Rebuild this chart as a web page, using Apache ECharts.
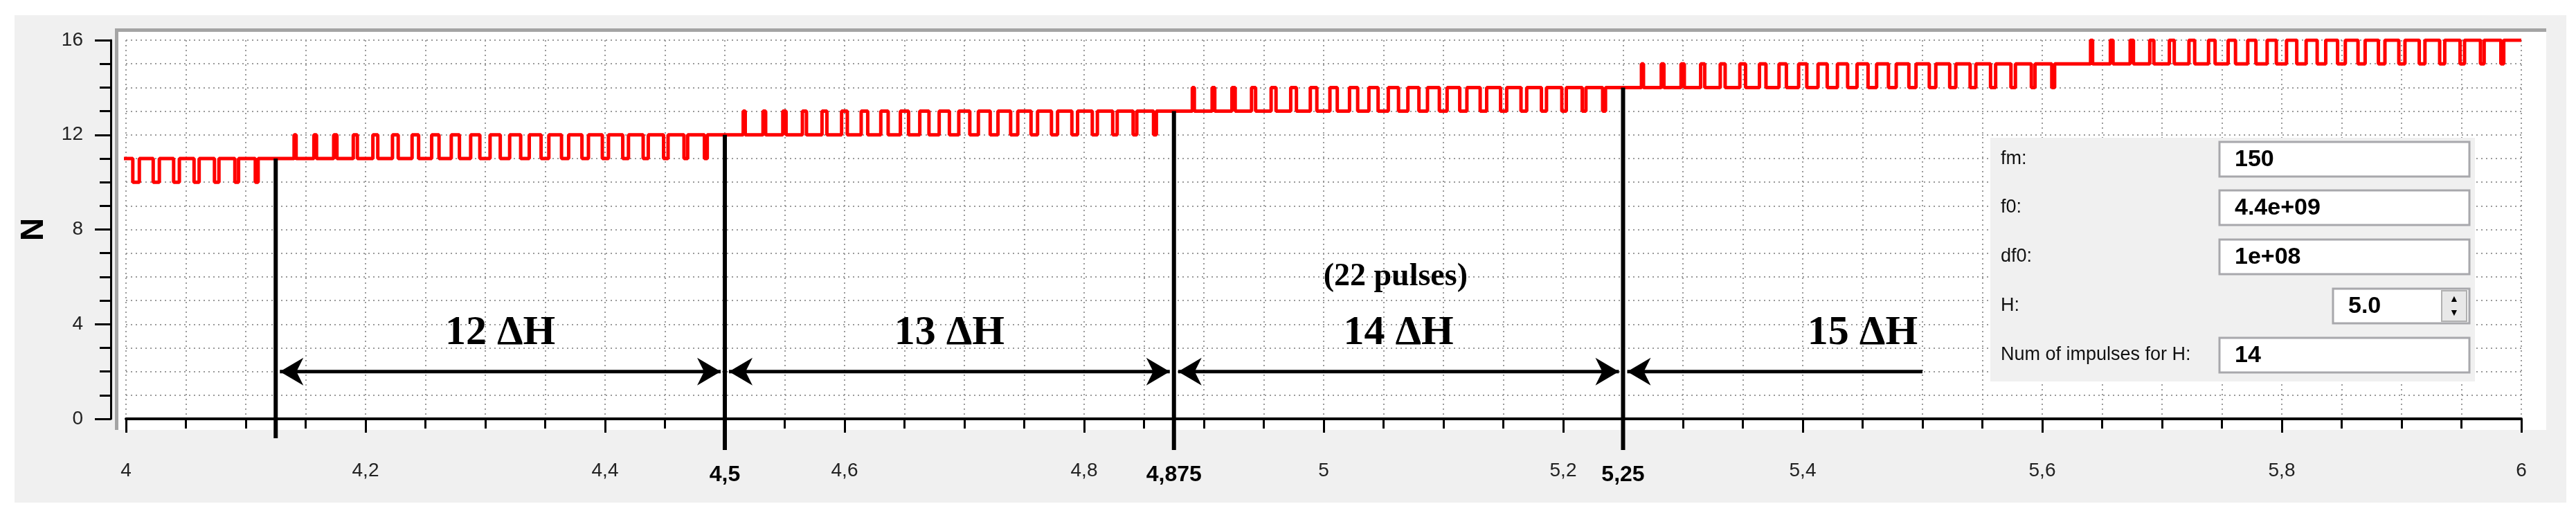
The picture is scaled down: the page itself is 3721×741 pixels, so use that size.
<!DOCTYPE html>
<html><head><meta charset="utf-8">
<script src="https://cdn.jsdelivr.net/npm/echarts@6/dist/echarts.min.js"></script>
<style>html,body{margin:0;padding:0;background:#fff}#c{width:3721px;height:741px}</style>
</head><body><div id="c"></div>
<script>
// ---- data ----
const segStart = [3.75, 4.125, 4.5, 4.875, 5.25, 5.625];
const segEnd   = [4.125, 4.5, 4.875, 5.25, 5.625, 6.0];
const segBase  = [10, 11, 12, 13, 14, 15];
const pulseDuty = [0.1,0.13,0.16,0.2,0.24,0.28,0.32,0.36,0.4,0.45,0.5,0.54,0.58,0.62,0.65,0.68,0.7,0.72,0.75,0.78,0.82,0.86];
const boundaryX = [4.125, 4.5, 4.875, 5.25];
const boundaryTop = [11, 12, 13, 14];
const boundaryLabels = ['', '4,5', '4,875', '5,25'];
const arrowFrom = [4.125, 4.5, 4.875, 5.25];
const arrowTo   = [4.5, 4.875, 5.25, 5.5];
const arrowHeadL = [1, 1, 1, 1];
const arrowHeadR = [1, 1, 1, 0];
const arrowY = 2;
const spanLabels = ['12 ΔH', '13 ΔH', '14 ΔH', '15 ΔH'];
const spanLabelX = [4.3125, 4.6875, 5.0625, 5.45];
const spanLabelY = 3.6;
const noteText = '(22 pulses)', noteX = 5.06, noteY = 6.0;
const panelLabels = ['fm:', 'f0:', 'df0:', 'H:', 'Num of impulses for H:'];
const panelValues = ['150', '4.4e+09', '1e+08', '5.0', '14'];

// ---- build step signal ----
const sig = [];
for (let s = 0; s < segStart.length; s++) {
  const n = pulseDuty.length, p = (segEnd[s] - segStart[s]) / n, L = segBase[s];
  for (let k = 0; k < n; k++) {
    const t0 = segStart[s] + k * p, d = pulseDuty[k];
    const tr = t0 + (1 - d) * p;
    sig.push([t0, L], [tr, L], [tr, L + 1], [t0 + p, L + 1]);
    if (k < n - 1) sig.push([t0 + p, L]);
  }
}

const chart = echarts.init(document.getElementById('c'));
const SANS = 'Liberation Sans', SERIF = 'Liberation Serif';
const dotted = {show:true, lineStyle:{color:'#9a9a9a', type:[2,5], width:2}};

// panel graphics
const g = [
  {type:'rect', z:-10, shape:{x:21,y:22,width:3686,height:704}, style:{fill:'#f0f0f0'}},
  {type:'rect', z:-9, shape:{x:168,y:44,width:3510,height:577}, style:{fill:'#fff'}},
  {type:'rect', z:-8, shape:{x:166,y:41,width:3512,height:5}, style:{fill:'#a4a4a4'}},
  {type:'rect', z:-8, shape:{x:166,y:41,width:5,height:580}, style:{fill:'#a4a4a4'}},
  {type:'rect', z:50, shape:{x:2875,y:199,width:700,height:352}, style:{fill:'#f0f0f0'}}
];
const rowY = [230, 300, 371, 442, 513];
panelLabels.forEach((t, i) => {
  g.push({type:'text', z:51, style:{text:t, x:2890, y:rowY[i], font:'27px '+SANS, fill:'#111', textVerticalAlign:'middle'}});
  const bx = i === 3 ? 3370 : 3206;
  g.push({type:'rect', z:51, shape:{x:bx, y:rowY[i]-25, width:3567-bx, height:50}, style:{fill:'#fff', stroke:'#a8a8ac', lineWidth:3}});
  g.push({type:'text', z:52, style:{text:panelValues[i], x:(i===3?3392:3228), y:rowY[i]+1, font:'bold 34px '+SANS, fill:'#000', textVerticalAlign:'middle'}});
});
g.push({type:'rect', z:52, shape:{x:3527,y:420,width:36,height:44}, style:{fill:'#e8e8e8', stroke:'#b0b0b0', lineWidth:2}});
g.push({type:'text', z:53, style:{text:'▲', x:3545, y:432, font:'14px '+SANS, fill:'#000', align:'center', verticalAlign:'middle'}});
g.push({type:'text', z:53, style:{text:'▼', x:3545, y:452, font:'14px '+SANS, fill:'#000', align:'center', verticalAlign:'middle'}});

chart.setOption({
  animation:false,
  backgroundColor:'#fff',
  graphic:g,
  grid:{left:182, right:79, top:58, bottom:136},
  xAxis:{type:'value', min:4, max:6, interval:0.2, offset:25,
    axisLine:{lineStyle:{color:'#000', width:4}},
    axisTick:{length:20, lineStyle:{color:'#000', width:3}},
    minorTick:{show:true, splitNumber:4, length:14, lineStyle:{color:'#000', width:3}},
    splitLine:dotted, minorSplitLine:dotted,
    axisLabel:{margin:36, fontSize:28, fontFamily:SANS, color:'#222', formatter:v=>String(+v.toFixed(2)).replace('.',',')}
  },
  yAxis:{type:'value', min:0, max:16, interval:4, offset:22,
    name:'N', nameLocation:'middle', nameGap:88, nameRotate:90,
    nameTextStyle:{fontSize:46, fontWeight:'bold', fontFamily:SANS, color:'#000'},
    axisLine:{show:true, lineStyle:{color:'#000', width:3}},
    axisTick:{show:true, length:23, lineStyle:{color:'#000', width:3}},
    minorTick:{show:true, splitNumber:4, length:16, lineStyle:{color:'#000', width:3}},
    splitLine:dotted, minorSplitLine:dotted,
    axisLabel:{margin:40, fontSize:28, fontFamily:SANS, color:'#222'}
  },
  series:[
    {type:'line', data:sig, symbol:'none', lineStyle:{color:'#ff0000', width:5}, z:5, clip:true},
    {type:'custom', z:10, clip:false,
      data:boundaryX.map((x,i)=>[x, boundaryTop[i], i]),
      renderItem:(params, api)=>{
        const i = api.value(2);
        const top = api.coord([api.value(0), api.value(1)]);
        const base = api.coord([api.value(0), 0]);
        const yb = base[1] + (i === 0 ? 28 : 45);
        const ch = [{type:'line', shape:{x1:top[0], y1:top[1], x2:top[0], y2:yb}, style:{stroke:'#000', lineWidth:6}}];
        if (boundaryLabels[i]) ch.push({type:'text', style:{text:boundaryLabels[i], x:top[0], y:base[1]+81, font:'bold 32px '+SANS, fill:'#000', align:'center', verticalAlign:'middle'}});
        return {type:'group', children:ch};
      }},
    {type:'custom', z:10, clip:false,
      data:arrowFrom.map((x,i)=>[x, arrowTo[i], arrowHeadL[i], arrowHeadR[i], spanLabelX[i], i]),
      renderItem:(params, api)=>{
        const a = api.coord([api.value(0), arrowY]), b = api.coord([api.value(1), arrowY]);
        const y = a[1], x0 = a[0] + 6, x1 = b[0] - (api.value(3) ? 6 : 0);
        const ch = [{type:'line', shape:{x1:x0, y1:y, x2:x1, y2:y}, style:{stroke:'#000', lineWidth:5}}];
        if (api.value(2)) ch.push({type:'polygon', shape:{points:[[x0,y],[x0+34,y-20],[x0+24,y],[x0+34,y+20]]}, style:{fill:'#000'}});
        if (api.value(3)) ch.push({type:'polygon', shape:{points:[[x1,y],[x1-34,y-20],[x1-24,y],[x1-34,y+20]]}, style:{fill:'#000'}});
        const t = api.coord([api.value(4), spanLabelY]);
        ch.push({type:'text', style:{text:spanLabels[api.value(5)], x:t[0], y:t[1], font:'bold 60px '+SERIF, fill:'#000', align:'center', verticalAlign:'middle'}});
        return {type:'group', children:ch};
      }},
    {type:'custom', z:10, clip:false, data:[[noteX, noteY]],
      renderItem:(params, api)=>{
        const p = api.coord([api.value(0), api.value(1)]);
        return {type:'text', style:{text:noteText, x:p[0], y:p[1], font:'bold 46px '+SERIF, fill:'#000', align:'center', verticalAlign:'middle'}};
      }}
  ]
});
</script></body></html>
